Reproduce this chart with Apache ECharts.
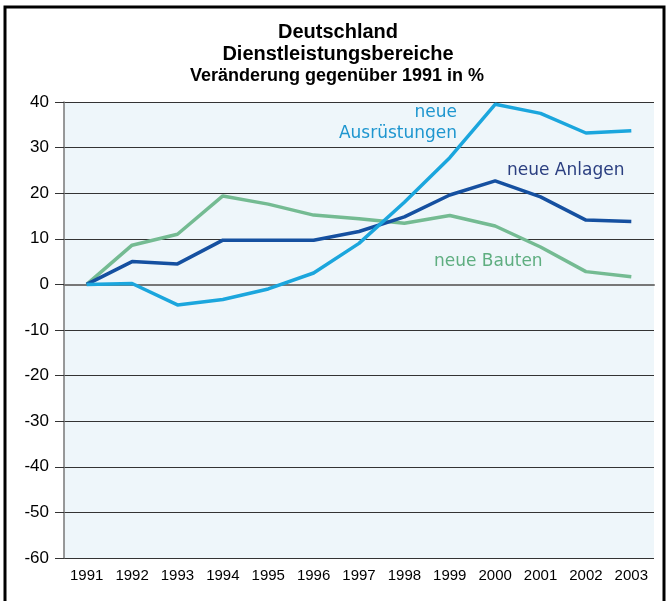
<!DOCTYPE html>
<html>
<head>
<meta charset="utf-8">
<script src="https://cdn.jsdelivr.net/npm/echarts@6/dist/echarts.min.js"></script>
<style>
  html, body { margin: 0; padding: 0; background: #fff; }
  #chart { width: 669px; height: 601px; }
</style>
</head>
<body>
<div id="chart"></div>
<script>
const years = ['1991', '1992', '1993', '1994', '1995', '1996', '1997', '1998', '1999', '2000', '2001', '2002', '2003'];
const ausruestungen = [0, 0.2, -4.5, -3.3, -1.0, 2.5, 9.0, 18.0, 27.8, 39.5, 37.5, 33.2, 33.7];
const anlagen = [0, 5.0, 4.5, 9.7, 9.7, 9.7, 11.6, 14.8, 19.6, 22.7, 19.2, 14.1, 13.8];
const bauten = [0, 8.6, 11.0, 19.4, 17.6, 15.2, 14.4, 13.4, 15.1, 12.8, 8.2, 2.8, 1.7];

const colors = ['#1ba6dd', '#1550a0', '#74bb92'];
const font = 'Liberation Sans';

const myChart = echarts.init(document.getElementById('chart'), null, { renderer: 'canvas' });

const option = {
  animation: false,
  color: colors,
  grid: { left: 64, right: 15, top: 102, bottom: 43 },
  graphic: [
    { type: 'rect', shape: { x: 5, y: 7, width: 659, height: 610 },
      style: { fill: 'none', stroke: '#000', lineWidth: 3 } },
    { type: 'text', x: 338, y: 32, style: { text: 'Deutschland', font: 'bold 20px "Liberation Sans"', fill: '#000', textAlign: 'center', textVerticalAlign: 'middle' } },
    { type: 'text', x: 338, y: 54, style: { text: 'Dienstleistungsbereiche', font: 'bold 20px "Liberation Sans"', fill: '#000', textAlign: 'center', textVerticalAlign: 'middle' } },
    { type: 'text', x: 337, y: 76, style: { text: 'Veränderung gegenüber 1991 in %', font: 'bold 18px "Liberation Sans"', fill: '#000', textAlign: 'center', textVerticalAlign: 'middle' } },
    { type: 'text', x: 457, y: 113, z: 10, style: { text: 'neue', font: '17px "DejaVu Sans"', fill: '#1e96cf', textAlign: 'right', textVerticalAlign: 'middle' } },
    { type: 'text', x: 457, y: 134, z: 10, style: { text: 'Ausrüstungen', font: '17px "DejaVu Sans"', fill: '#1e96cf', textAlign: 'right', textVerticalAlign: 'middle' } },
    { type: 'text', x: 507, y: 171, z: 10, style: { text: 'neue Anlagen', font: '17px "DejaVu Sans"', fill: '#2b3f80', textAlign: 'left', textVerticalAlign: 'middle' } },
    { type: 'text', x: 434, y: 262, z: 10, style: { text: 'neue Bauten', font: '17px "DejaVu Sans"', fill: '#5fae80', textAlign: 'left', textVerticalAlign: 'middle' } }
  ],
  xAxis: {
    type: 'category',
    data: years,
    boundaryGap: true,
    axisLine: { lineStyle: { color: '#777', width: 2 } },
    axisTick: { show: false },
    axisLabel: { color: '#000', fontSize: 15, fontFamily: font, margin: 10 },
    splitLine: { show: false }
  },
  yAxis: {
    type: 'value',
    min: -60,
    max: 40,
    interval: 10,
    axisLine: { show: true, lineStyle: { color: '#777', width: 1.5 } },
    axisTick: { show: true, length: 9, lineStyle: { color: '#333' } },
    axisLabel: { color: '#000', fontSize: 17, fontFamily: font, margin: 15 },
    splitLine: { show: true, lineStyle: { color: '#333', width: 1 } },
    splitArea: { show: true, areaStyle: { color: ['#eef6fa', '#eef6fa'] } }
  },
  series: [
    { name: 'neue Ausrüstungen', type: 'line', data: ausruestungen, symbol: 'none',
      lineStyle: { width: 3.5, color: colors[0] }, z: 3 },
    { name: 'neue Anlagen', type: 'line', data: anlagen, symbol: 'none',
      lineStyle: { width: 3.5, color: colors[1] }, z: 2 },
    { name: 'neue Bauten', type: 'line', data: bauten, symbol: 'none',
      lineStyle: { width: 3.5, color: colors[2] }, z: 1 }
  ]
};

myChart.setOption(option);
</script>
</body>
</html>
